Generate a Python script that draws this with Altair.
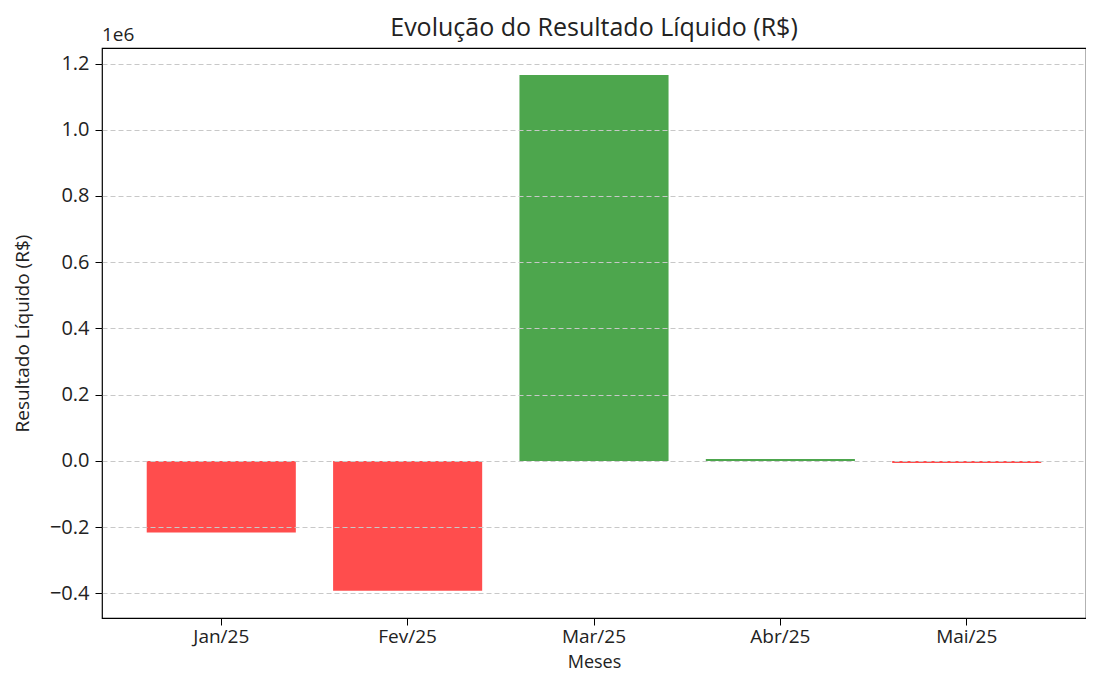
import altair as alt
import pandas as pd

meses = ["Jan/25", "Fev/25", "Mar/25", "Abr/25", "Mai/25"]
resultado = [-216000, -391500, 1165000, 6000, -6000]

df = pd.DataFrame({"Mes": meses, "Resultado": resultado})
df["Cor"] = ["pos" if v >= 0 else "neg" for v in df["Resultado"]]

FONT = "Open Sans"
W, H = 984, 570

y_scale = alt.Scale(domain=[-474000, 1246800], nice=False, zero=False)

bars = alt.Chart(df).mark_bar().encode(
    x=alt.X("Mes:N", sort=meses,
            scale=alt.Scale(paddingInner=0.2, paddingOuter=0.24),
            axis=alt.Axis(title="Meses", labelAngle=0, labelFontSize=19,
                          titleFontSize=18, titleFontWeight="normal",
                          tickSize=7, tickColor="black", domain=False,
                          labelColor="#222", titleColor="#222",
                          labelPadding=2, titleY=49,
                          titleBaseline="alphabetic", grid=False)),
    y=alt.Y("Resultado:Q", scale=y_scale,
            axis=alt.Axis(title="Resultado Líquido (R$)",
                          values=[-400000, -200000, 0, 200000, 400000, 600000,
                                  800000, 1000000, 1200000],
                          labelExpr="replace(format(datum.value/1e6, '.1f'), '-', '\u2212')",
                          labelFontSize=20, titleFontSize=19,
                          titleFontWeight="normal", tickSize=7,
                          tickColor="black", domain=False, grid=True,
                          gridDash=[5, 3], gridColor="#c8c8c8", gridWidth=1,
                          labelColor="#222", titleColor="#222",
                          labelPadding=6, titleX=-80, titleY=H / 2,
                          titleAlign="center", titleBaseline="middle",
                          titleAngle=270, zindex=1)),
    color=alt.Color("Cor:N",
                    scale=alt.Scale(domain=["pos", "neg"],
                                    range=["#4da64d", "#ff4d4d"]),
                    legend=None),
)

offset = alt.Chart(pd.DataFrame({"t": ["1e6"]})).mark_text(
    align="left", baseline="bottom", fontSize=19, font=FONT, color="#222",
    dy=-3
).encode(x=alt.value(0), y=alt.value(0), text="t:N")

title = alt.Chart(pd.DataFrame({"t": ["Evolução do Resultado Líquido (R$)"]})).mark_text(
    align="center", baseline="middle", fontSize=25, font=FONT, color="#222"
).encode(x=alt.value(W / 2), y=alt.value(-20), text="t:N")

chart = alt.layer(bars, offset, title).properties(
    width=W, height=H,
    padding={"left": 94, "top": 40, "right": 0, "bottom": 53},
    autosize=alt.AutoSizeParams(type="none"),
).configure_view(stroke="black", strokeWidth=1.2).configure_axis(
    labelFont=FONT, titleFont=FONT
).configure_text(font=FONT)

chart.save("out.html", embed_options={"renderer": "svg", "actions": False})
